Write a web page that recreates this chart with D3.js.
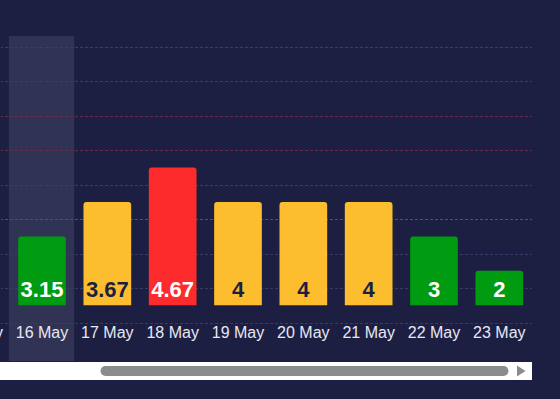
<!DOCTYPE html>
<html>
<head>
<meta charset="utf-8">
<script src="https://cdn.jsdelivr.net/npm/d3@7"></script>
<style>
  html, body { margin: 0; padding: 0; background: #1c1f42; }
  svg { display: block; }
</style>
</head>
<body>
<svg id="chart" width="560" height="399"></svg>
<script>
// ---- data ----
const dates = ["15 May", "16 May", "17 May", "18 May", "19 May", "20 May", "21 May", "22 May", "23 May"];
const values = [3, 3.15, 3.67, 4.67, 4, 4, 4, 3, 2];      // displayed values
const levels = [3, 3, 4, 5, 4, 4, 4, 3, 2];               // bar heights (rounded level)
const gridValues = [0.5, 1.5, 2.5, 3.5, 4.5, 5.5, 6.5, 7.5, 8.5];
const highlighted = "16 May";

// ---- styles ----
const W = 560, H = 399;
const plotRight = 532;
const levelColor = l => l <= 3 ? "#009b10" : (l === 4 ? "#fcbd2e" : "#fe2b2d");
const labelColor = l => l === 4 ? "#1c1f42" : "#ffffff";
const gridColor = v => v < 3 ? "#363b6a" : (v < 4 ? "#5e5052" : "#6a2a48");

const svg = d3.select("#chart");

const x = d3.scaleBand()
  .domain(dates)
  .range([-56, plotRight])
  .paddingInner(0.27)
  .paddingOuter(0.135);

const y = d3.scaleLinear().domain([0.5, 8.5]).range([322.5, 47]);

// clip
svg.append("defs").append("clipPath").attr("id", "plotclip")
  .append("rect").attr("x", 1).attr("y", 0).attr("width", plotRight - 1).attr("height", H);

const plot = svg.append("g").attr("clip-path", "url(#plotclip)");

// highlight band
const step = x.step();
plot.append("rect")
  .attr("x", x(highlighted) - x.paddingInner() * step / 2 - 0.5)
  .attr("y", 36)
  .attr("width", step)
  .attr("height", 361 - 36)
  .attr("fill", "#ffffff")
  .attr("fill-opacity", 0.09);

// gridlines
plot.append("g").selectAll("line").data(gridValues).join("line")
  .attr("x1", 0).attr("x2", plotRight)
  .attr("y1", d => Math.round(y(d)) + 0.5)
  .attr("y2", d => Math.round(y(d)) + 0.5)
  .attr("stroke", d => gridColor(d))
  .attr("stroke-width", 1)
  .attr("stroke-dasharray", "3,2");

// bars with rounded top corners
const r = 3;
const barPath = (x0, w, yTop, yBot) =>
  `M${x0},${yBot}V${yTop + r}Q${x0},${yTop} ${x0 + r},${yTop}H${x0 + w - r}Q${x0 + w},${yTop} ${x0 + w},${yTop + r}V${yBot}Z`;

const data = dates.map((d, i) => ({ date: d, value: values[i], level: levels[i] }));

plot.append("g").selectAll("path").data(data).join("path")
  .attr("d", d => barPath(x(d.date), x.bandwidth(), y(d.level), y(1)))
  .attr("fill", d => levelColor(d.level));

// value labels (only for bars inside the visible plot window)
plot.append("g").selectAll("text")
  .data(data.filter(d => x(d.date) >= 0))
  .join("text")
  .attr("x", d => x(d.date) + x.bandwidth() / 2)
  .attr("y", 297)
  .attr("text-anchor", "middle")
  .attr("font-family", "'Liberation Sans', Arial, sans-serif")
  .attr("font-weight", "bold")
  .attr("font-size", 22)
  .attr("fill", d => labelColor(d.level))
  .text(d => d.value);

// x-axis labels
const xAxis = d3.axisBottom(x).tickSize(0).tickPadding(0);
const gx = svg.append("g").attr("transform", "translate(0,322)").call(xAxis);
gx.select(".domain").remove();
gx.selectAll("text")
  .attr("dy", 0)
  .attr("y", 16)
  .attr("font-family", "'Liberation Sans', Arial, sans-serif")
  .attr("font-size", 16)
  .attr("fill", "#e8e8f4");

// scrollbar
const sb = svg.append("g");
sb.append("rect").attr("x", 0).attr("y", 362).attr("width", plotRight).attr("height", 18).attr("fill", "#ffffff");
sb.append("rect").attr("x", 100.5).attr("y", 366).attr("width", 408).attr("height", 10).attr("rx", 5).attr("fill", "#8c8c8c");
sb.append("path").attr("d", "M517,365.5L525.5,371L517,376.5Z").attr("fill", "#8c8c8c");
</script>
</body>
</html>
